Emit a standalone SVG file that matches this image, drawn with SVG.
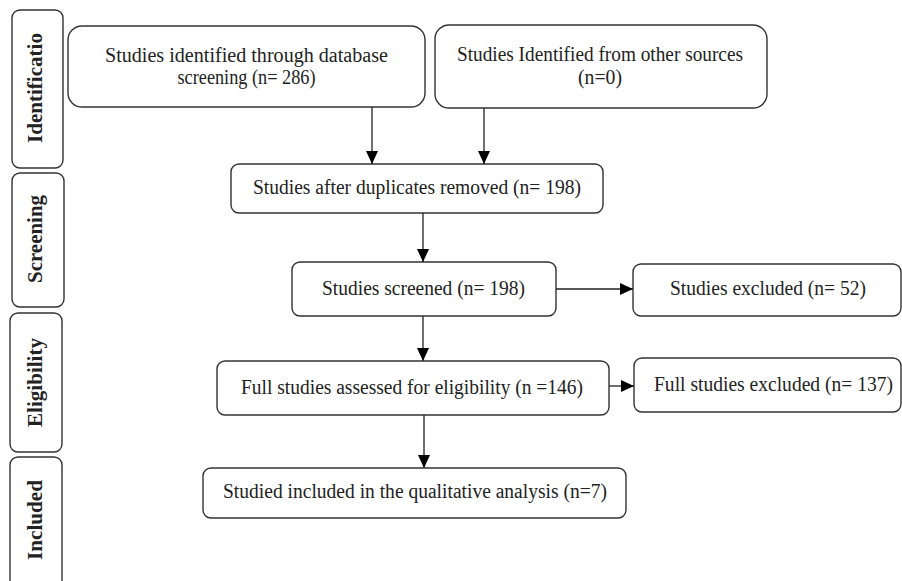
<svg xmlns="http://www.w3.org/2000/svg" width="902" height="581" viewBox="0 0 902 581">
<defs>
<marker id="ah" viewBox="0 0 13 12" refX="13" refY="6" markerWidth="13" markerHeight="12" markerUnits="userSpaceOnUse" orient="auto">
<path d="M0,0 L13,6 L0,12 Z" fill="#000"/>
</marker>
<style>
.box{fill:#fff;stroke:#333;stroke-width:1.4}
.t{font-family:"Liberation Serif","Times New Roman",serif;font-size:20px;fill:#222}
.ph{font-family:"Liberation Serif","Times New Roman",serif;font-size:20px;font-weight:bold;fill:#222}
.c{stroke:#222;stroke-width:1.3;fill:none;marker-end:url(#ah)}
</style>
</defs>
<rect width="902" height="581" fill="#fff"/>
<g id="phase-identification">
<rect class="box" x="12" y="10" width="51" height="158" rx="8"/>
<text class="ph" transform="translate(42,88) rotate(-90)" text-anchor="middle" textLength="110" lengthAdjust="spacingAndGlyphs">Identificatio</text>
</g>
<g id="phase-screening">
<rect class="box" x="12" y="173" width="52" height="134" rx="8"/>
<text class="ph" transform="translate(42,239) rotate(-90)" text-anchor="middle" textLength="88" lengthAdjust="spacingAndGlyphs">Screening</text>
</g>
<g id="phase-eligibility">
<rect class="box" x="10" y="313" width="52" height="139" rx="8"/>
<text class="ph" transform="translate(42,382.5) rotate(-90)" text-anchor="middle" textLength="89" lengthAdjust="spacingAndGlyphs">Eligibility</text>
</g>
<g id="phase-included">
<rect class="box" x="10" y="457" width="52" height="140" rx="8"/>
<text class="ph" transform="translate(42,520) rotate(-90)" text-anchor="middle" textLength="80" lengthAdjust="spacingAndGlyphs">Included</text>
</g>
<g id="n-database">
<rect class="box" x="68" y="26" width="357" height="81" rx="14"/>
<text class="t" x="246.5" y="62" text-anchor="middle" textLength="283" lengthAdjust="spacingAndGlyphs">Studies identified through database</text>
<text class="t" x="246.5" y="84" text-anchor="middle" textLength="138" lengthAdjust="spacingAndGlyphs">screening (n= 286)</text>
</g>
<g id="n-other">
<rect class="box" x="435" y="25" width="332" height="83" rx="14"/>
<text class="t" x="600" y="61" text-anchor="middle" textLength="286" lengthAdjust="spacingAndGlyphs">Studies Identified from other sources</text>
<text class="t" x="600" y="84" text-anchor="middle" textLength="44" lengthAdjust="spacingAndGlyphs">(n=0)</text>
</g>
<g id="n-dedup">
<rect class="box" x="231" y="164" width="372" height="49" rx="8"/>
<text class="t" x="417" y="194" text-anchor="middle" textLength="328" lengthAdjust="spacingAndGlyphs">Studies after duplicates removed (n= 198)</text>
</g>
<g id="n-screened">
<rect class="box" x="292" y="262" width="264" height="54" rx="8"/>
<text class="t" x="423.5" y="295" text-anchor="middle" textLength="203" lengthAdjust="spacingAndGlyphs">Studies screened (n= 198)</text>
</g>
<g id="n-excluded">
<rect class="box" x="633" y="264" width="268" height="52" rx="8"/>
<text class="t" x="768" y="295" text-anchor="middle" textLength="196" lengthAdjust="spacingAndGlyphs">Studies excluded (n= 52)</text>
</g>
<g id="n-assessed">
<rect class="box" x="217" y="361" width="392" height="54" rx="8"/>
<text class="t" x="412" y="394" text-anchor="middle" textLength="342" lengthAdjust="spacingAndGlyphs">Full studies assessed for eligibility (n =146)</text>
</g>
<g id="n-fullexcluded">
<rect class="box" x="634" y="358" width="267" height="54" rx="8"/>
<text class="t" x="773.5" y="391" text-anchor="middle" textLength="239" lengthAdjust="spacingAndGlyphs">Full studies excluded (n= 137)</text>
</g>
<g id="n-included">
<rect class="box" x="203" y="468" width="423" height="50" rx="8"/>
<text class="t" x="415" y="498" text-anchor="middle" textLength="384" lengthAdjust="spacingAndGlyphs">Studied included in the qualitative analysis (n=7)</text>
</g>
<g id="connectors">
<line class="c" x1="372" y1="107" x2="372" y2="164"/>
<line class="c" x1="484" y1="108" x2="484" y2="164"/>
<line class="c" x1="423" y1="213" x2="423" y2="262"/>
<line class="c" x1="556" y1="289" x2="633" y2="289"/>
<line class="c" x1="423" y1="316" x2="423" y2="361"/>
<line class="c" x1="609" y1="386" x2="634" y2="386"/>
<line class="c" x1="424" y1="415" x2="424" y2="468"/>
</g>
</svg>
